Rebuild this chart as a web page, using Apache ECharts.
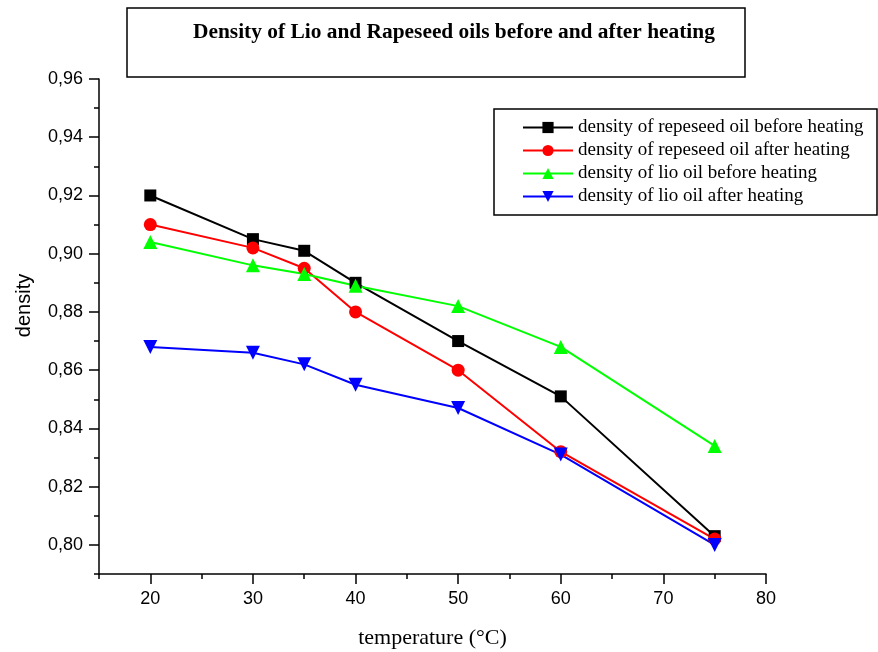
<!DOCTYPE html>
<html>
<head>
<meta charset="utf-8">
<script src="https://cdn.jsdelivr.net/npm/echarts@6/dist/echarts.min.js"></script>
<style>
html,body{margin:0;padding:0;background:#fff;}
#chart{width:878px;height:652px;}
</style>
</head>
<body>
<div id="chart"></div>
<script>
var temperatures = [20, 30, 35, 40, 50, 60, 75];
var rapeseedBefore = [0.920, 0.905, 0.901, 0.890, 0.870, 0.851, 0.803];
var rapeseedAfter = [0.910, 0.902, 0.895, 0.880, 0.860, 0.832, 0.802];
var lioBefore = [0.904, 0.896, 0.893, 0.889, 0.882, 0.868, 0.834];
var lioAfter = [0.868, 0.866, 0.862, 0.855, 0.847, 0.831, 0.800];
var seriesNames = [
  'density of repeseed oil before heating',
  'density of repeseed oil after heating',
  'density of lio oil before heating',
  'density of lio oil after heating'
];
var xMajorTicks = [20, 30, 40, 50, 60, 70, 80];
var xMinorTicks = [15, 25, 35, 45, 55, 65, 75];
var yMajorTicks = [0.80, 0.82, 0.84, 0.86, 0.88, 0.90, 0.92, 0.94, 0.96];
var yMinorTicks = [0.79, 0.81, 0.83, 0.85, 0.87, 0.89, 0.91, 0.93, 0.95];
var titleText = 'Density of Lio and Rapeseed oils before and after heating';

function pairs(vals) {
  return temperatures.map(function (t, i) { return [t, vals[i]]; });
}

var chart = echarts.init(document.getElementById('chart'));
var serif = 'Liberation Serif, Times New Roman, serif';
var sans = 'Liberation Sans, Arial, sans-serif';

function mkSeries(name, vals, color, symbol, size, rot) {
  return {
    name: name,
    type: 'line',
    data: pairs(vals),
    xAxisIndex: 0,
    yAxisIndex: 0,
    symbol: symbol,
    symbolSize: size,
    symbolRotate: rot || 0,
    lineStyle: { color: color, width: 2 },
    itemStyle: { color: color },
    animation: false
  };
}

chart.setOption({
  animation: false,
  backgroundColor: '#fff',
  title: {
    text: titleText,
    left: 193,
    top: 22,
    padding: 0,
    textStyle: { fontFamily: serif, fontWeight: 'bold', fontSize: 21.4, color: '#000' }
  },
  graphic: [
    { type: 'rect', shape: { x: 127, y: 8, width: 618, height: 69 }, style: { fill: null, stroke: '#000', lineWidth: 1.5 }, z: 0 },
    { type: 'rect', shape: { x: 494, y: 109, width: 383, height: 106 }, style: { fill: '#fff', stroke: '#000', lineWidth: 1.5 }, z: 0 }
  ],
  legend: {
    orient: 'vertical',
    left: 522,
    top: 118,
    itemWidth: 50,
    itemHeight: 14,
    itemGap: 4,
    padding: 0,
    textStyle: { fontFamily: serif, fontSize: 19, color: '#000', lineHeight: 19 },
    data: seriesNames
  },
  grid: { left: 99, right: 112, top: 79, bottom: 78, outerBoundsMode: 'none', containLabel: false },
  xAxis: [
    {
      type: 'value', min: 15, max: 80,
      name: 'temperature (°C)', nameLocation: 'middle', nameGap: 53,
      nameTextStyle: { fontFamily: serif, fontSize: 22, color: '#000' },
      axisLine: { show: true, lineStyle: { color: '#000', width: 1.5 } },
      axisTick: { show: true, length: 10, customValues: xMajorTicks, lineStyle: { color: '#000', width: 1.5 } },
      axisLabel: { customValues: xMajorTicks, margin: 16, fontFamily: sans, fontSize: 18, color: '#000' },
      splitLine: { show: false }
    },
    {
      type: 'value', min: 15, max: 80, position: 'bottom',
      axisLine: { show: false },
      axisTick: { show: true, length: 5, customValues: xMinorTicks, lineStyle: { color: '#000', width: 1.5 } },
      axisLabel: { show: false },
      splitLine: { show: false }
    }
  ],
  yAxis: [
    {
      type: 'value', min: 0.79, max: 0.96,
      name: 'density', nameLocation: 'middle', nameGap: 65,
      nameTextStyle: { fontFamily: sans, fontSize: 20, color: '#000', padding: [0, 0, 0, 42] },
      axisLine: { show: true, lineStyle: { color: '#000', width: 1.5 } },
      axisTick: { show: true, length: 10, customValues: yMajorTicks, lineStyle: { color: '#000', width: 1.5 } },
      axisLabel: {
        customValues: yMajorTicks, margin: 16, fontFamily: sans, fontSize: 18, color: '#000',
        formatter: function (v) { return v.toFixed(2).replace('.', ','); }
      },
      splitLine: { show: false }
    },
    {
      type: 'value', min: 0.79, max: 0.96, position: 'left',
      axisLine: { show: false },
      axisTick: { show: true, length: 5, customValues: yMinorTicks, lineStyle: { color: '#000', width: 1.5 } },
      axisLabel: { show: false },
      splitLine: { show: false }
    }
  ],
  series: [
    mkSeries(seriesNames[0], rapeseedBefore, '#000000', 'rect', 12),
    mkSeries(seriesNames[1], rapeseedAfter, '#ff0000', 'circle', 13),
    mkSeries(seriesNames[2], lioBefore, '#00ff00', 'triangle', 14),
    mkSeries(seriesNames[3], lioAfter, '#0000ff', 'triangle', 14, 180)
  ]
});
</script>
</body>
</html>
